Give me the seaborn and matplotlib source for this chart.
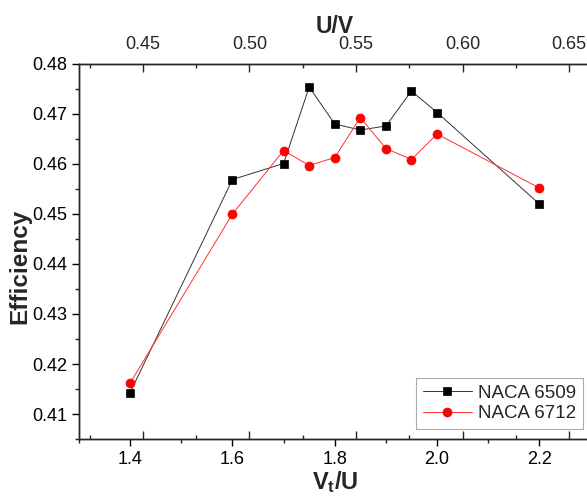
import matplotlib
matplotlib.use("Agg")
import matplotlib.pyplot as plt
import seaborn as sns
import numpy as np
import pandas as pd
from matplotlib.ticker import MultipleLocator

# ---- data ----
vt_u = [1.4, 1.6, 1.7, 1.75, 1.8, 1.85, 1.9, 1.95, 2.0, 2.2]
eff_6509 = [0.4143, 0.4569, 0.4601, 0.4754, 0.4680, 0.4668, 0.4676, 0.4746, 0.4703, 0.4520]
eff_6712 = [0.4162, 0.4500, 0.4627, 0.4597, 0.4613, 0.4693, 0.4631, 0.4609, 0.4660, 0.4552]
series_names = ["NACA 6509", "NACA 6712"]
bottom_ticks = [1.4, 1.6, 1.8, 2.0, 2.2]
top_ticks = [0.45, 0.50, 0.55, 0.60, 0.65]
y_ticks = [0.41, 0.42, 0.43, 0.44, 0.45, 0.46, 0.47, 0.48]

sns.set_style("white")
plt.rcParams["font.family"] = ["Liberation Sans", "DejaVu Sans"]
plt.rcParams["mathtext.fontset"] = "custom"
plt.rcParams["mathtext.rm"] = "Liberation Sans"
plt.rcParams["mathtext.bf"] = "Liberation Sans:bold"
plt.rcParams["mathtext.it"] = "Liberation Sans:italic"

fig = plt.figure(figsize=(5.87, 4.96), dpi=100)
ax = fig.add_axes([79/587, 57/496, 511.5/587, 375/496])

df = pd.DataFrame({"x": vt_u * 2,
                   "y": eff_6509 + eff_6712,
                   "series": [series_names[0]] * len(vt_u) + [series_names[1]] * len(vt_u)})

sns.lineplot(data=df[df.series == series_names[0]], x="x", y="y", ax=ax,
             color="#333333", linewidth=0.7, marker="s", markersize=5.2,
             markerfacecolor="black", markeredgecolor="black", markeredgewidth=0.5,
             label=series_names[0])
sns.lineplot(data=df[df.series == series_names[1]], x="x", y="y", ax=ax,
             color="#ff3030", linewidth=0.7, marker="o", markersize=6.5,
             markerfacecolor="red", markeredgecolor="red", markeredgewidth=0.5,
             label=series_names[1])

ax.set_xlim(1.3, 2.3)
ax.set_ylim(0.405, 0.48)
ax.set_xticks(bottom_ticks)
ax.set_xticklabels([f"{t:.1f}" for t in bottom_ticks])
ax.set_yticks(y_ticks)
ax.set_yticklabels([f"{t:.2f}" for t in y_ticks])
ax.xaxis.set_minor_locator(MultipleLocator(0.1))
ax.yaxis.set_minor_locator(MultipleLocator(0.005))

for s in ["left", "bottom", "top"]:
    ax.spines[s].set_linewidth(1.0)
    ax.spines[s].set_color("black")
ax.spines["right"].set_visible(False)

ax.tick_params(axis="both", which="major", direction="out", length=5, width=1.0,
               labelsize=13, colors="black", top=False, right=False,
               bottom=True, left=True)
ax.tick_params(axis="both", which="minor", direction="out", length=2.8, width=1.0,
               top=False, right=False, bottom=True, left=True)

ax.set_xlabel(r"$\mathbf{V_t/U}$", fontsize=17, fontweight="bold", labelpad=1)
ax.set_ylabel("Efficiency", fontsize=17.5, fontweight="bold")
ax.yaxis.set_label_coords(-0.093, 0.46)

ax2 = ax.twiny()
ax2.set_xlim(0.42, 0.66)
ax2.set_xticks(top_ticks)
ax2.set_xticklabels([f"{t:.2f}" for t in top_ticks])
ax2.xaxis.set_minor_locator(MultipleLocator(0.025))
ax2.tick_params(axis="x", which="major", direction="in", length=5.5, width=1.0,
                top=True, bottom=True, labeltop=True, labelbottom=False,
                labelsize=13, pad=8)
ax2.tick_params(axis="x", which="minor", direction="in", length=3.2, width=1.0,
                top=True, bottom=True)
for s in ["left", "bottom", "top"]:
    ax2.spines[s].set_linewidth(1.0)
ax2.spines["right"].set_visible(False)
ax2.set_xlabel("U/V", fontsize=16.5, fontweight="bold", labelpad=2)

leg = ax.legend(loc="lower right", bbox_to_anchor=(0.9853, 0.0267), borderaxespad=0,
                fontsize=13.5, frameon=True, fancybox=False, handlelength=2.6,
                handletextpad=0.35, borderpad=0.35, labelspacing=0.2)
leg.get_frame().set_edgecolor("#999999")
leg.get_frame().set_linewidth(0.8)

fig.savefig("out.png", dpi=100)
